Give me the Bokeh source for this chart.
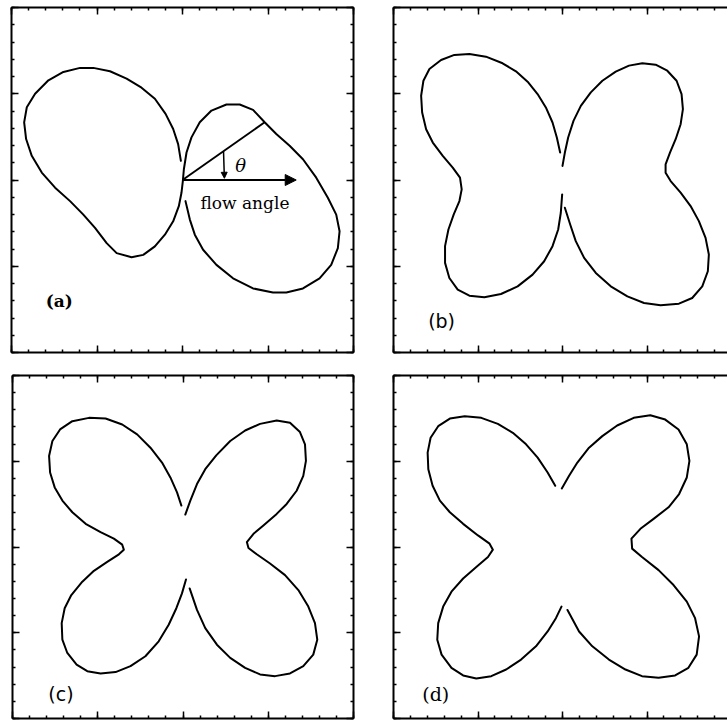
from bokeh.plotting import figure
from bokeh.layouts import row, column
from bokeh.models import (Range1d, LinearAxis, SingleIntervalTicker, Arrow, NormalHead,
                          CustomJSTickFormatter)
from bokeh.embed import file_html
from bokeh.resources import INLINE
from bokeh.core.properties import value

# ---- digitised polar curves (same units on both axes, frame spans -2..2) ----
# (a) single open curve: upper end of the left lobe, round the left lobe,
# through the origin, round the right lobe, ending below the origin.
a_x = [-0.019, -0.051, -0.109, -0.198, -0.323, -0.479, -0.654, -0.848, -1.043, -1.198,
       -1.393, -1.568, -1.724, -1.821, -1.852, -1.829, -1.763, -1.646, -1.490, -1.315,
       -1.160, -1.023, -0.887, -0.770, -0.595, -0.459, -0.323, -0.206, -0.109, -0.043,
       -0.012, 0.004, 0.016, 0.047, 0.105, 0.202, 0.339, 0.514, 0.669, 0.825,
       0.961, 1.097, 1.253, 1.409, 1.564, 1.700, 1.798, 1.837, 1.817, 1.739,
       1.603, 1.409, 1.214, 1.058, 0.825, 0.591, 0.397, 0.241, 0.144, 0.086, 0.035]
a_y = [0.222, 0.416, 0.591, 0.767, 0.942, 1.070, 1.175, 1.261, 1.300, 1.300,
       1.253, 1.156, 1.000, 0.844, 0.669, 0.475, 0.280, 0.086, -0.089, -0.245,
       -0.401, -0.556, -0.732, -0.848, -0.895, -0.868, -0.770, -0.634, -0.479, -0.304,
       -0.148, -0.012, 0.125, 0.319, 0.494, 0.669, 0.805, 0.875, 0.875, 0.813,
       0.669, 0.533, 0.397, 0.241, 0.027, -0.206, -0.401, -0.595, -0.790, -0.984,
       -1.140, -1.257, -1.304, -1.304, -1.257, -1.140, -0.984, -0.809, -0.634, -0.459, -0.245]

# flow direction construction in (a)
theta_deg = 35
ray_end = (0.961, 0.669)
flow_arrow_len = 1.33

# (b) left and right halves
b_left_x = [-0.028, -0.067, -0.118, -0.197, -0.295, -0.413, -0.551, -0.709, -0.906, -1.102,
            -1.280, -1.437, -1.575, -1.646, -1.673, -1.661, -1.614, -1.535, -1.417, -1.299,
            -1.213, -1.193, -1.220, -1.287, -1.350, -1.390, -1.390, -1.339, -1.240, -1.102,
            -0.925, -0.728, -0.531, -0.354, -0.217, -0.118, -0.051, -0.020, -0.004]
b_left_y = [0.318, 0.492, 0.667, 0.841, 0.996, 1.140, 1.260, 1.353, 1.430, 1.461,
            1.450, 1.391, 1.287, 1.151, 0.977, 0.783, 0.589, 0.434, 0.279, 0.143,
            0.027, -0.109, -0.244, -0.399, -0.574, -0.767, -0.961, -1.136, -1.271, -1.341,
            -1.360, -1.322, -1.233, -1.097, -0.942, -0.767, -0.574, -0.380, -0.167]
b_right_x = [0.000, 0.028, 0.067, 0.130, 0.217, 0.335, 0.472, 0.630, 0.787, 0.945,
             1.102, 1.240, 1.350, 1.409, 1.425, 1.398, 1.339, 1.272, 1.220, 1.220,
             1.280, 1.398, 1.516, 1.614, 1.693, 1.732, 1.720, 1.654, 1.535, 1.378,
             1.161, 0.965, 0.768, 0.571, 0.394, 0.256, 0.157, 0.091, 0.028]
b_right_y = [0.163, 0.318, 0.492, 0.686, 0.860, 1.016, 1.151, 1.256, 1.326, 1.353,
             1.337, 1.267, 1.151, 0.996, 0.822, 0.647, 0.473, 0.318, 0.182, 0.085,
             -0.012, -0.147, -0.302, -0.477, -0.671, -0.864, -1.058, -1.233, -1.368, -1.434,
             -1.453, -1.426, -1.349, -1.233, -1.078, -0.903, -0.709, -0.516, -0.322]

# (c) left and right halves
c_left_x = [-0.019, -0.070, -0.148, -0.246, -0.382, -0.538, -0.713, -0.908, -1.103, -1.298,
            -1.442, -1.532, -1.571, -1.559, -1.505, -1.415, -1.298, -1.142, -0.967, -0.811,
            -0.713, -0.694, -0.752, -0.889, -1.045, -1.181, -1.310, -1.388, -1.423, -1.415,
            -1.357, -1.248, -1.123, -0.967, -0.791, -0.616, -0.441, -0.285, -0.168, -0.078,
            -0.012, 0.035]
c_left_y = [0.483, 0.637, 0.811, 0.985, 1.158, 1.313, 1.429, 1.498, 1.506, 1.467,
            1.371, 1.236, 1.062, 0.869, 0.695, 0.541, 0.405, 0.270, 0.174, 0.097,
            0.027, -0.031, -0.085, -0.174, -0.278, -0.405, -0.560, -0.714, -0.888, -1.081,
            -1.236, -1.371, -1.448, -1.475, -1.459, -1.390, -1.274, -1.100, -0.907, -0.714,
            -0.541, -0.378]
c_right_x = [0.027, 0.086, 0.164, 0.261, 0.390, 0.554, 0.729, 0.904, 1.099, 1.255,
             1.372, 1.431, 1.442, 1.411, 1.333, 1.216, 1.099, 0.943, 0.827, 0.749,
             0.768, 0.865, 1.021, 1.197, 1.353, 1.470, 1.548, 1.575, 1.528, 1.411,
             1.255, 1.080, 0.904, 0.729, 0.554, 0.398, 0.261, 0.164, 0.078]
c_right_y = [0.378, 0.541, 0.734, 0.907, 1.069, 1.236, 1.359, 1.436, 1.475, 1.448,
             1.340, 1.197, 1.004, 0.830, 0.656, 0.502, 0.386, 0.251, 0.154, 0.058,
             -0.012, -0.085, -0.193, -0.328, -0.502, -0.695, -0.888, -1.081, -1.255, -1.390,
             -1.475, -1.506, -1.486, -1.409, -1.293, -1.139, -0.946, -0.734, -0.483]

# (d) left and right halves
d_left_x = [-0.086, -0.176, -0.294, -0.431, -0.588, -0.765, -0.961, -1.157, -1.333, -1.471,
            -1.561, -1.596, -1.588, -1.537, -1.451, -1.333, -1.176, -1.000, -0.863, -0.824,
            -0.882, -1.020, -1.176, -1.314, -1.412, -1.471, -1.482, -1.431, -1.314, -1.176,
            -1.020, -0.843, -0.667, -0.490, -0.314, -0.176, -0.078, -0.012]
d_left_y = [0.714, 0.869, 1.042, 1.197, 1.332, 1.436, 1.506, 1.525, 1.498, 1.409,
            1.274, 1.100, 0.907, 0.714, 0.541, 0.405, 0.270, 0.135, 0.039, -0.031,
            -0.116, -0.232, -0.367, -0.521, -0.695, -0.888, -1.081, -1.255, -1.409, -1.498,
            -1.533, -1.506, -1.429, -1.313, -1.158, -0.985, -0.830, -0.695]
d_right_x = [-0.008, 0.078, 0.176, 0.314, 0.471, 0.647, 0.843, 1.039, 1.216, 1.373,
             1.471, 1.502, 1.471, 1.380, 1.255, 1.078, 0.922, 0.816, 0.824, 0.941,
             1.137, 1.314, 1.471, 1.569, 1.616, 1.588, 1.490, 1.333, 1.137, 0.941,
             0.745, 0.549, 0.353, 0.196, 0.059]
d_right_y = [0.683, 0.830, 0.985, 1.158, 1.293, 1.417, 1.506, 1.537, 1.486, 1.371,
             1.197, 1.004, 0.811, 0.618, 0.463, 0.328, 0.212, 0.097, -0.019, -0.116,
             -0.270, -0.444, -0.637, -0.830, -1.042, -1.255, -1.409, -1.498, -1.525, -1.506,
             -1.429, -1.313, -1.158, -0.985, -0.734]

panel_labels = ["(a)", "(b)", "(c)", "(d)"]

# right-hand panels run off the page edge: 334 of their 338 px are shown
RIGHT_X_END = -2 + 4 * 334 / 338


def panel(w, h, left, right, top, bottom, x_end=2.0, right_axis=True):
    p = figure(width=w, height=h, x_range=Range1d(-2, x_end), y_range=Range1d(-2, 2),
               output_backend="svg", toolbar_location=None,
               x_axis_location=None, y_axis_location=None,
               min_border_left=left, min_border_right=right,
               min_border_top=top, min_border_bottom=bottom)
    p.grid.visible = False
    p.outline_line_color = None
    p.background_fill_color = "white"
    p.border_fill_color = "white"
    sides = ["below", "above", "left"] + (["right"] if right_axis else [])
    for side in sides:
        # frame with inward ticks only, no numbers
        ax = LinearAxis(ticker=SingleIntervalTicker(interval=1, num_minor_ticks=5),
                        formatter=CustomJSTickFormatter(code="return ''"),
                        major_tick_in=7, major_tick_out=0,
                        minor_tick_in=3, minor_tick_out=0,
                        major_label_text_font_size="1px", major_label_standoff=0,
                        axis_line_width=2, axis_line_color="black",
                        major_tick_line_width=1.5, minor_tick_line_width=1.5)
        p.add_layout(ax, side)
    return p


def curve(p, xs, ys):
    p.line(xs, ys, line_color="black", line_width=2, line_join="round", line_cap="round")


serif = value("DejaVu Serif")
sans = value("DejaVu Sans")

# (a)
pa = panel(372, 362, 11, 19, 6, 10)
curve(pa, a_x, a_y)
pa.line([0, ray_end[0]], [0, ray_end[1]], line_color="black", line_width=2)
pa.add_layout(Arrow(end=NormalHead(size=11, fill_color="black", line_color="black"),
                    x_start=0, y_start=0, x_end=flow_arrow_len, y_end=0,
                    line_color="black", line_width=2))
pa.add_layout(Arrow(end=NormalHead(size=6, fill_color="black", line_color="black"),
                    x_start=0.48, y_start=0.33, x_end=0.49, y_end=0.02,
                    line_color="black", line_width=1.5))
pa.text([0.68], [0.17], text=["\u03b8"], text_font=serif, text_font_style="italic",
        text_font_size="18px", text_align="center", text_baseline="middle")
pa.text([0.21], [-0.27], text=["flow angle"], text_font=serif,
        text_font_size="17px", text_align="left", text_baseline="middle")
pa.text([-1.60], [-1.40], text=[panel_labels[0]], text_font=serif, text_font_style="bold",
        text_font_size="17px", text_align="left", text_baseline="middle")

# (b)
pb = panel(355, 362, 21, 0, 7, 10, x_end=RIGHT_X_END, right_axis=False)
curve(pb, b_left_x, b_left_y)
curve(pb, b_right_x, b_right_y)
pb.text([-1.59], [-1.63], text=[panel_labels[1]], text_font=sans,
        text_font_size="19px", text_align="left", text_baseline="middle")

# (c)
pc = panel(372, 358, 12, 19, 13, 2)
curve(pc, c_left_x, c_left_y)
curve(pc, c_right_x, c_right_y)
pc.text([-1.58], [-1.71], text=[panel_labels[2]], text_font=sans,
        text_font_size="19px", text_align="left", text_baseline="middle")

# (d)
pd_ = panel(355, 358, 21, 0, 12, 2, x_end=RIGHT_X_END, right_axis=False)
curve(pd_, d_left_x, d_left_y)
curve(pd_, d_right_x, d_right_y)
pd_.text([-1.66], [-1.71], text=[panel_labels[3]], text_font=serif,
         text_font_size="19px", text_align="left", text_baseline="middle")

layout = column(row(pa, pb), row(pc, pd_))
open("out.html", "w").write(file_html(layout, INLINE))
